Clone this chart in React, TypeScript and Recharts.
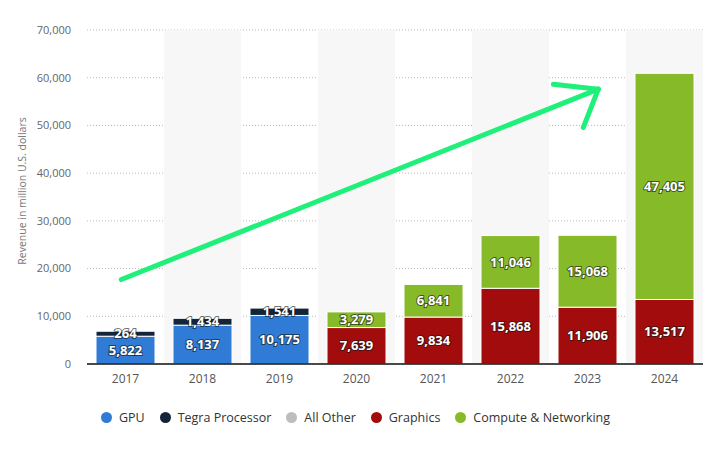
import {
  BarChart,
  Bar,
  XAxis,
  YAxis,
  CartesianGrid,
  Legend,
  LabelList,
  ReferenceArea,
  ReferenceLine,
} from "recharts";

const years = ["2017", "2018", "2019", "2020", "2021", "2022", "2023", "2024"];
const gpu = [5822, 8137, 10175, null, null, null, null, null];
const tegra = [264, 1434, 1541, null, null, null, null, null];
const allOther = [null, null, null, null, null, null, null, null];
const graphics = [null, null, null, 7639, 9834, 15868, 11906, 13517];
const compute = [null, null, null, 3279, 6841, 11046, 15068, 47405];
const yTicks = [0, 10000, 20000, 30000, 40000, 50000, 60000, 70000];
const shadedYears = ["2018", "2020", "2022", "2024"];

// hand-drawn arrow overlay; x on a hidden 0..7 axis spanning the plot width
const arrowShaft: [number, number][] = [[0.39, 17700], [5.81, 57600]];
const arrowArmA: [number, number][] = [[5.81, 57600], [5.3, 58650]];
const arrowArmB: [number, number][] = [[5.81, 57600], [5.64, 49600]];

const series = [
  { key: "gpu", name: "GPU", color: "#2f7bd5", values: gpu },
  { key: "tegra", name: "Tegra Processor", color: "#14253a", values: tegra },
  { key: "allOther", name: "All Other", color: "#bdbdbd", values: allOther },
  { key: "graphics", name: "Graphics", color: "#a20c0c", values: graphics },
  { key: "compute", name: "Compute & Networking", color: "#86ba28", values: compute },
];

const data = years.map((year, i) => {
  const row: Record<string, string | number | null> = { year };
  series.forEach((s) => (row[s.key] = s.values[i]));
  return row;
});

const fmt = (v: any) => (v ? Number(v).toLocaleString("en-US") : "");

const FONT = "'Open Sans', 'Noto Sans', sans-serif";

function LegendRow() {
  return (
    <div
      style={{
        display: "flex",
        justifyContent: "center",
        gap: 15,
        fontFamily: FONT,
        fontSize: 12.5,
        color: "#333",
      }}
    >
      {series.map((s) => (
        <div key={s.key} style={{ display: "flex", alignItems: "center" }}>
          <span
            style={{
              width: 11,
              height: 11,
              borderRadius: "50%",
              background: s.color,
              marginRight: 7,
              display: "inline-block",
            }}
          />
          {s.name}
        </div>
      ))}
    </div>
  );
}

export default function App() {
  return (
    <div style={{ width: 711, height: 451, background: "#fff" }}>
      <style>{`body{margin:0}`}</style>
      <BarChart
        width={711}
        height={451}
        data={data}
        margin={{ top: 30, right: 8, bottom: 40, left: 0 }}
        barCategoryGap={9}
      >
        {shadedYears.map((y) => (
          <ReferenceArea
            key={y}
            x1={y}
            x2={y}
            y1={0}
            y2={70000}
            fill="#f7f7f7"
            fillOpacity={1}
            stroke="none"
          />
        ))}
        <CartesianGrid
          vertical={false}
          stroke="#bbb"
          strokeDasharray="1 2"
        />
        <XAxis
          dataKey="year"
          tickLine={false}
          axisLine={{ stroke: "#111", strokeWidth: 1.5 }}
          tick={{ fill: "#555", fontSize: 12, fontFamily: FONT }}
          tickMargin={4}
        />
        <XAxis
          xAxisId="arrow"
          type="number"
          domain={[0, 7]}
          allowDataOverflow
          hide
        />
        <YAxis
          width={87}
          domain={[0, 70000]}
          ticks={yTicks}
          tickFormatter={(v) => Number(v).toLocaleString("en-US")}
          tickLine={false}
          axisLine={false}
          tickMargin={10}
          tick={{ fill: "#666", fontSize: 11, fontFamily: FONT }}
          label={{
            value: "Revenue in million U.S. dollars",
            angle: -90,
            position: "center",
            dx: -21,
            dy: -6,
            style: { fill: "#777", fontSize: 10.5, fontFamily: FONT },
          }}
        />
        {series.map((s) => (
          <Bar
            key={s.key}
            dataKey={s.key}
            name={s.name}
            stackId="a"
            fill={s.color}
            stroke="#fff"
            strokeWidth={1}
            isAnimationActive={false}
            // keep very thin segments visible, as in the original
            minPointSize={(_top: any, i: number) => {
              const v = s.values[i];
              return v && v < 800 ? 5 : 0;
            }}
          >
            <LabelList
              dataKey={s.key}
              position="center"
              formatter={fmt}
              fill="#fff"
              stroke="rgba(20,20,20,0.6)"
              strokeWidth={2}
              paintOrder="stroke"
              style={{ fontSize: 13, fontWeight: 700, fontFamily: FONT }}
            />
          </Bar>
        ))}
        {[arrowShaft, arrowArmA, arrowArmB].map((seg, i) => (
          <ReferenceLine
            key={i}
            xAxisId="arrow"
            segment={seg.map(([x, y]) => ({ x, y }))}
            stroke="#1ef07a"
            strokeWidth={5}
            strokeLinecap="round"
            ifOverflow="visible"
          />
        ))}
        <Legend
          content={() => <LegendRow />}
          wrapperStyle={{ left: 0, width: 711, top: 409 }}
        />
      </BarChart>
    </div>
  );
}
